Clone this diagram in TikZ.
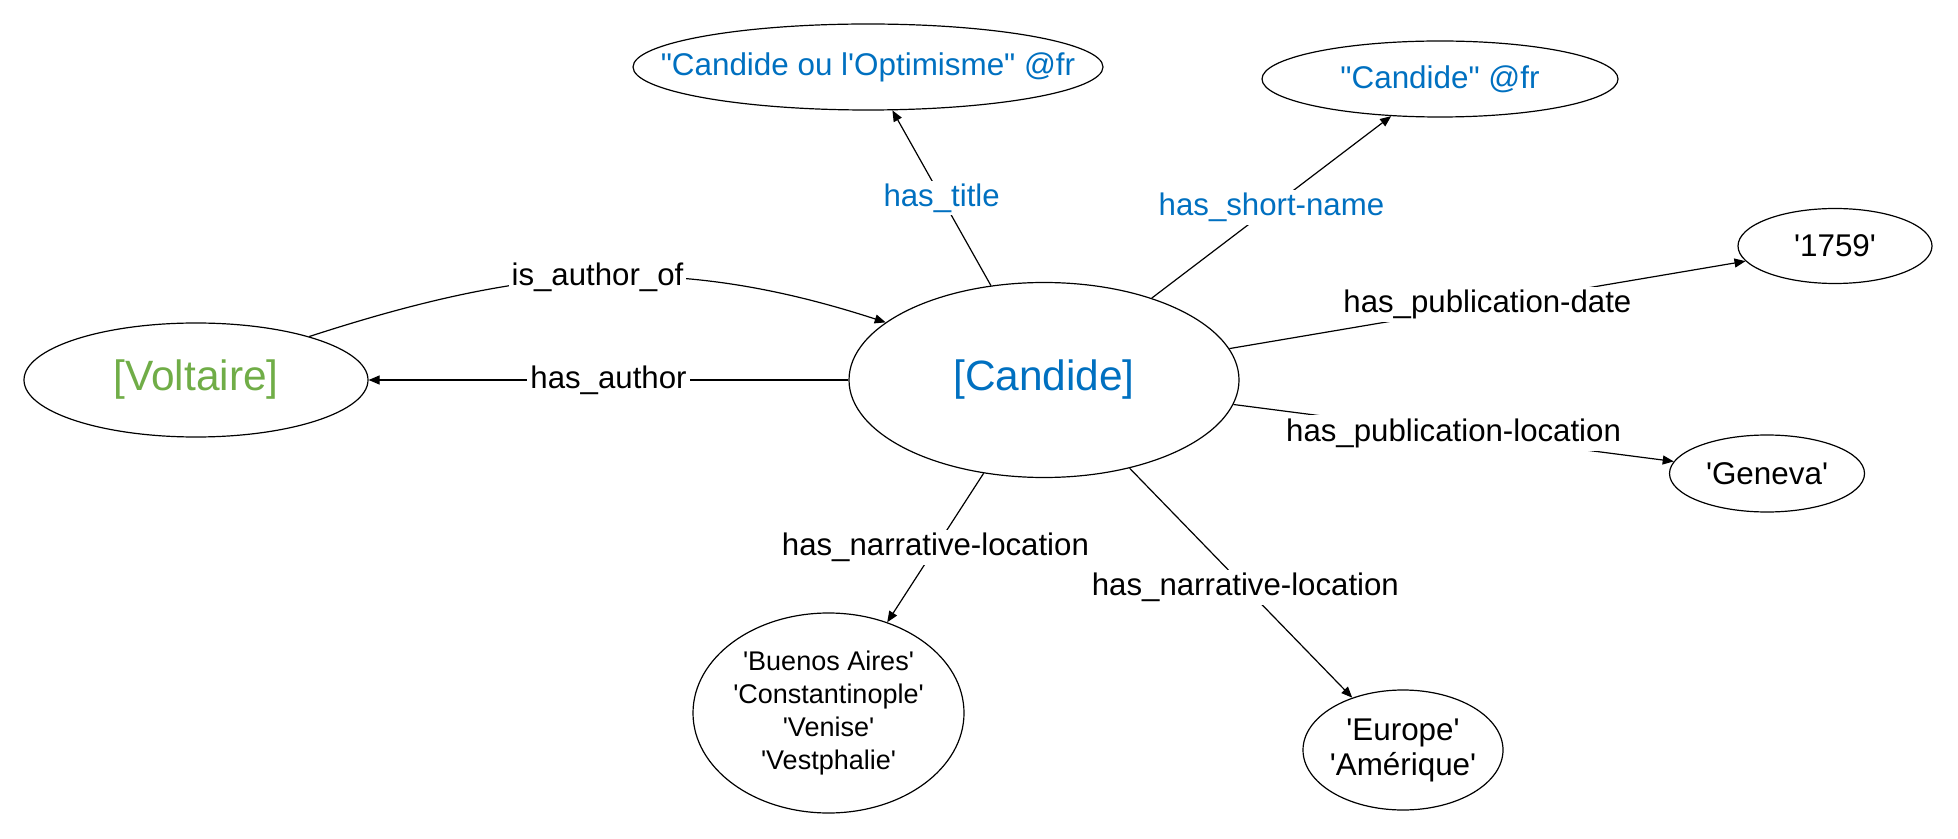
\documentclass[tikz,border=0pt]{standalone}
\usepackage{fontspec}
\setmainfont{Liberation Sans}[Ligatures=TeXOff]
\usetikzlibrary{shapes.geometric,arrows.meta}
\definecolor{ublue}{HTML}{0070C0}
\definecolor{ugreen}{HTML}{70AD47}
\begin{document}
\begin{tikzpicture}[x=0.5pt,y=0.5pt,
  ell/.style={draw=black, line width=0.6pt, ellipse, inner sep=0pt},
  edge/.style={draw=black, line width=0.6pt, -{Triangle[length=5.5pt,width=4.5pt]}},
  lbl/.style={fill=white, inner sep=1.5pt, font=\fontsize{15.6}{18}\selectfont},
  txt/.style={font=\fontsize{15.7}{17.5}\selectfont, align=center},
  big/.style={font=\fontsize{21.2}{25}\selectfont}]
\useasboundingbox (0,0) rectangle (1958,-839);
% ellipses
\node[ell, minimum width=195pt, minimum height=97.5pt] (C) at (1044,-380) {};
\node[ell, minimum width=172pt, minimum height=57pt] (V) at (196,-380) {};
\node[ell, minimum width=235pt, minimum height=43pt] (T) at (868,-67) {};
\node[ell, minimum width=178pt, minimum height=38pt] (S) at (1440,-79) {};
\node[ell, minimum width=97pt, minimum height=37.5pt] (D) at (1835,-246) {};
\node[ell, minimum width=97.5pt, minimum height=38.5pt] (G) at (1767,-473.5) {};
\node[ell, minimum width=135.5pt, minimum height=100pt] (B) at (828.5,-713) {};
\node[ell, minimum width=100pt, minimum height=60pt] (E) at (1403,-750) {};
% texts
\node[big, text=ublue] (Ct) at (C) {[Candide]};
\node[big, text=ugreen] (Vt) at (V) {[Voltaire]};
\node[txt, text=ublue] (Tt) at (T) {"Candide ou l'Optimisme" @fr};
\node[txt, text=ublue] (St) at (S) {"Candide" @fr};
\node[txt] (Dt) at (D) {'1759'};
\node[txt] (Gt) at (G) {'Geneva'};
\node[align=center, font=\fontsize{13.5}{16.4}\selectfont] (Bt) at (B)
  {'Buenos Aires'\\'Constantinople'\\'Venise'\\'Vestphalie'};
\node[txt] (Et) at (E) {'Europe'\\'Amérique'};
% edges
\draw[edge] (V.21) to[out=18,in=162] node[lbl]{is\_author\_of} (C.160);
\draw[edge] (C.west) -- node[lbl]{has\_author} (V.east);
\draw[edge] (C) -- node[lbl, text=ublue]{has\_title} (T);
\draw[edge] (C) -- node[lbl, text=ublue]{has\_short-name} (S);
\draw[edge] (C) -- node[lbl]{has\_publication-date} (D);
\draw[edge] (C) -- node[lbl]{has\_publication-location} (G);
\draw[edge] (C) -- node[lbl]{has\_narrative-location} (B);
\draw[edge] (C) -- node[lbl, pos=0.52]{has\_narrative-location} (E);
\end{tikzpicture}
\end{document}
